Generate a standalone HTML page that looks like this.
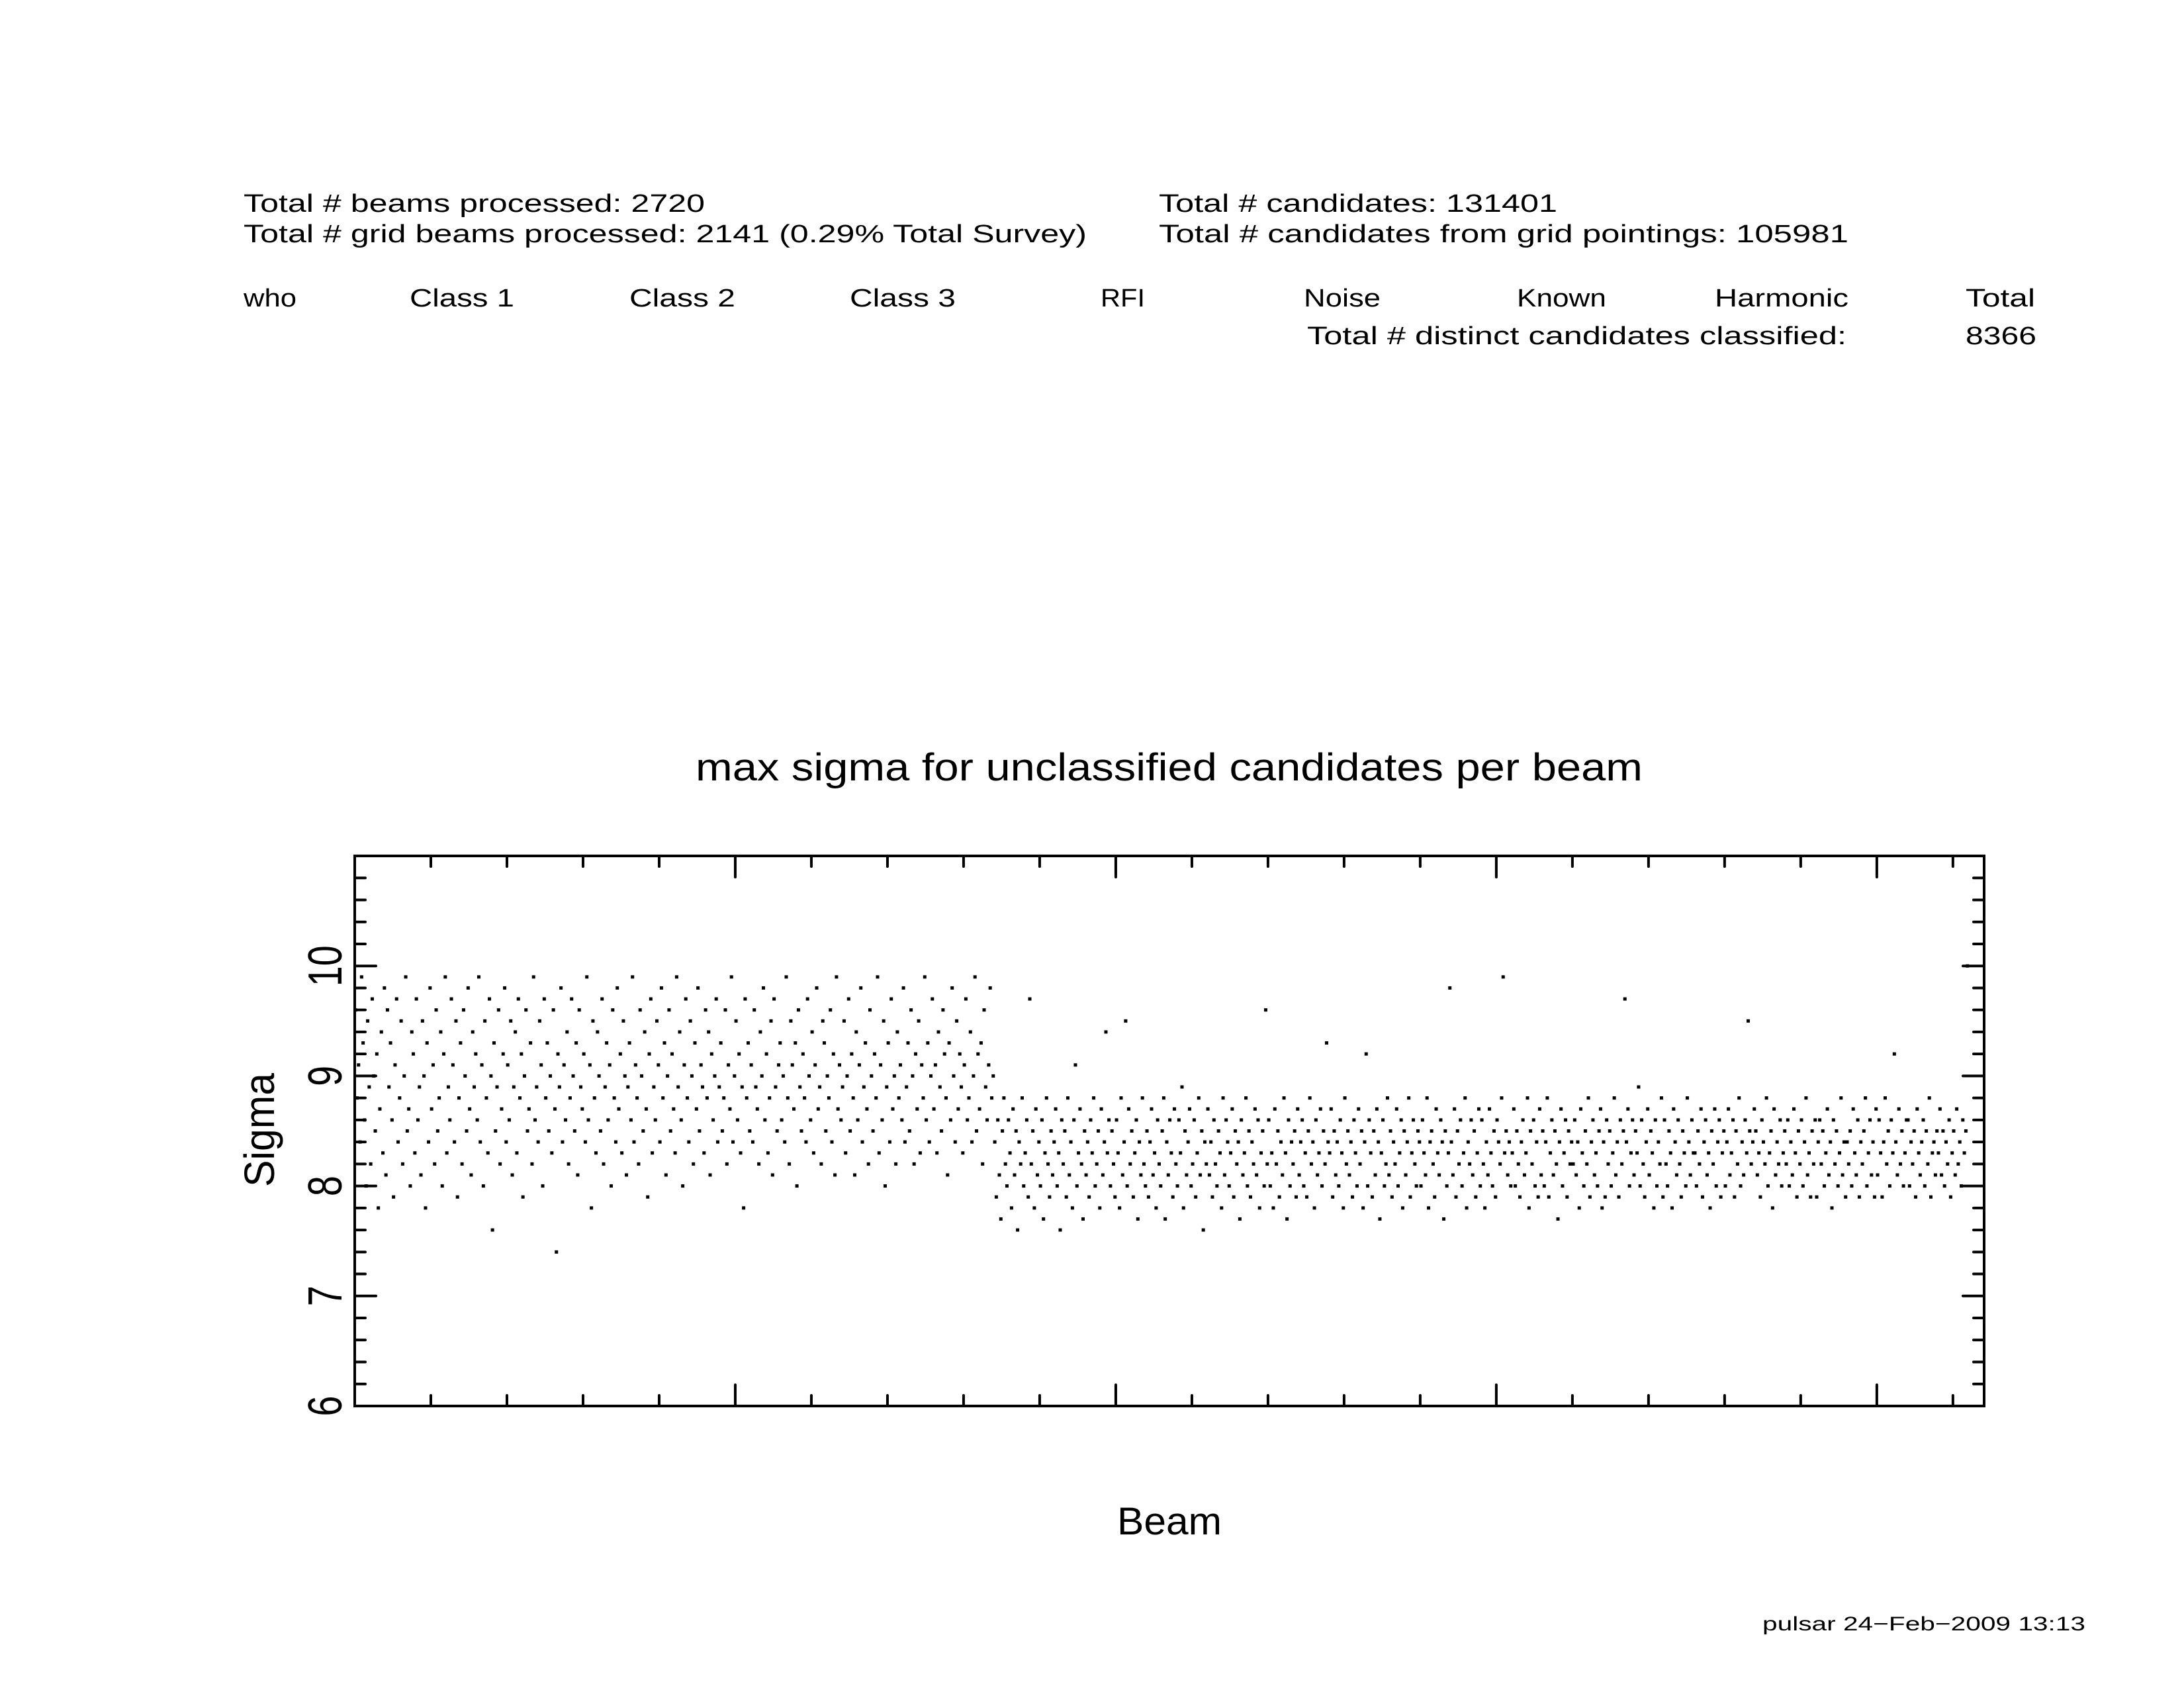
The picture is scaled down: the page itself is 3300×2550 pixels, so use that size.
<!DOCTYPE html>
<html><head><meta charset="utf-8"><style>
html,body{margin:0;padding:0;background:#fff}
svg{display:block}
text{font-family:"Liberation Sans",sans-serif;fill:#000}
</style></head><body>
<svg id="chart" width="3300" height="2550" viewBox="0 0 3300 2550" xmlns="http://www.w3.org/2000/svg">
<rect width="3300" height="2550" fill="#fff"/>
<g font-size="38">
<text x="368" y="320" textLength="697" lengthAdjust="spacingAndGlyphs">Total # beams processed: 2720</text>
<text x="368" y="366" textLength="1274" lengthAdjust="spacingAndGlyphs">Total # grid beams processed: 2141 (0.29% Total Survey)</text>
<text x="1751" y="320" textLength="602" lengthAdjust="spacingAndGlyphs">Total # candidates: 131401</text>
<text x="1751" y="366" textLength="1042" lengthAdjust="spacingAndGlyphs">Total # candidates from grid pointings: 105981</text>
<text x="368" y="463" textLength="80" lengthAdjust="spacingAndGlyphs">who</text>
<text x="619" y="463" textLength="158" lengthAdjust="spacingAndGlyphs">Class 1</text>
<text x="951" y="463" textLength="160" lengthAdjust="spacingAndGlyphs">Class 2</text>
<text x="1284" y="463" textLength="160" lengthAdjust="spacingAndGlyphs">Class 3</text>
<text x="1663" y="463" textLength="67" lengthAdjust="spacingAndGlyphs">RFI</text>
<text x="1970" y="463" textLength="116" lengthAdjust="spacingAndGlyphs">Noise</text>
<text x="2292" y="463" textLength="135" lengthAdjust="spacingAndGlyphs">Known</text>
<text x="2591" y="463" textLength="202" lengthAdjust="spacingAndGlyphs">Harmonic</text>
<text x="2970" y="463" textLength="105" lengthAdjust="spacingAndGlyphs">Total</text>
<text x="1975" y="520" textLength="815" lengthAdjust="spacingAndGlyphs">Total # distinct candidates classified:</text>
<text x="2970" y="520" textLength="107" lengthAdjust="spacingAndGlyphs">8366</text>
</g>
<text x="1051" y="1179" font-size="58" textLength="1431" lengthAdjust="spacingAndGlyphs">max sigma for unclassified candidates per beam</text>
<text x="1688" y="2318" font-size="58" textLength="158" lengthAdjust="spacingAndGlyphs">Beam</text>
<text transform="translate(414,1793) rotate(-90)" font-size="64" textLength="172" lengthAdjust="spacingAndGlyphs">Sigma</text>
<text x="2663" y="2463" font-size="30" textLength="488" lengthAdjust="spacingAndGlyphs">pulsar 24−Feb−2009 13:13</text>
<g id="ticks"></g>
<g id="points"></g>
<rect x="536" y="1293" width="2462" height="831" fill="none" stroke="#000" stroke-width="4"/>
</svg>
<script>
const yTickValues = [6, 7, 8, 9, 10];
const yTickLabels = ["6", "7", "8", "9", "10"];
const xMajorTicks = [500, 1000, 1500, 2000];
const xDomain = [0, 2141];
const yDomain = [6, 11];
const sigmaTenthsEarly = [
96,88,91,84,99,93,86,80,95,89,82,97,90,85,92,78,87,94,83,98,
81,96,89,93,86,79,91,97,84,88,95,82,90,99,85,87,80,94,92,83,
97,86,89,81,95,90,78,93,84,98,87,91,82,96,85,88,94,80,92,99,
83,89,86,97,91,84,95,79,88,93,82,96,90,85,98,87,81,94,89,92,
86,99,84,91,80,95,88,83,97,90,76,93,85,89,96,82,87,92,98,84,
91,86,95,81,89,94,83,97,88,92,79,90,96,85,87,93,82,99,86,89,
84,95,91,80,97,88,93,85,90,83,96,87,74,92,89,98,84,91,86,94,
82,88,97,90,85,93,81,96,89,87,92,84,99,86,91,78,95,88,83,94,
90,85,97,82,89,93,86,91,80,96,88,84,98,87,92,83,95,90,81,89,
93,86,99,84,91,88,82,96,90,85,94,87,79,92,97,83,89,86,95,91,
84,98,88,93,81,90,96,85,92,87,83,99,89,94,86,80,91,97,88,84,
95,90,82,93,87,98,85,91,89,83,96,88,94,81,92,86,90,97,84,89,
93,85,88,96,82,91,87,99,84,90,95,86,92,83,89,78,97,88,93,85,
91,84,96,89,87,82,94,90,98,86,92,83,88,95,81,97,89,85,91,93,
86,90,84,99,88,82,95,91,87,93,80,96,89,85,92,88,84,97,90,86,
94,83,91,98,87,89,82,95,93,85,90,88,96,84,92,81,99,87,91,86,
89,95,83,90,97,85,92,88,81,94,86,91,98,84,89,93,87,82,96,90,
85,92,88,99,83,91,86,95,80,89,93,84,97,87,90,82,94,88,91,86,
98,84,89,93,85,96,90,82,92,87,95,83,91,88,99,86,93,84,90,97,
87,91,83,94,89,85,96,92,88,81,93,86,98,90,84,95,87,92,89,83,
91,97,86,88,94,84,90,99,85,92,87,93,82,96,89,86,91,98,88,90
];
const sigmaTenthsLate = [
84,79,86,81,77,85,88,82,80,86,83,78,87,81,85,76,84,82,88,80,
83,86,79,97,82,85,78,87,81,84,80,86,77,83,88,82,79,85,81,84,
87,80,83,76,86,82,85,79,88,81,84,78,86,91,80,83,87,82,77,85,
81,84,79,86,83,88,80,82,85,78,87,81,84,94,83,86,80,85,82,79,
86,83,78,88,81,84,95,80,87,82,85,79,83,86,77,84,81,88,82,80,
85,79,84,87,81,83,78,86,82,80,85,88,77,84,81,86,83,79,87,82,
80,86,83,89,78,85,81,84,87,80,82,86,79,83,88,81,85,76,84,82,
87,81,84,79,86,82,80,85,83,78,88,81,86,84,80,83,87,79,85,82,
84,77,86,81,83,88,80,85,79,84,82,87,81,86,78,83,85,80,96,82,
86,80,83,78,87,82,85,79,84,81,88,83,77,86,80,84,82,85,79,87,
81,84,86,80,83,79,85,88,82,84,78,86,81,83,87,80,85,82,93,84,
83,87,79,85,81,84,80,86,83,78,88,82,85,81,84,79,86,83,80,87,
82,85,78,84,92,80,86,83,79,85,81,87,84,77,83,86,80,82,88,81,
85,79,84,82,87,80,83,86,78,85,81,84,88,79,83,86,82,80,85,84,
80,86,83,81,88,78,84,85,82,79,87,83,81,86,84,77,85,80,83,98,
84,81,87,79,85,82,86,80,83,88,78,84,82,86,81,85,79,83,87,80,
86,82,78,84,81,87,83,80,85,79,86,84,82,88,99,83,85,81,84,80,
83,87,80,85,82,79,84,86,81,83,88,78,85,82,86,80,84,79,87,81,
85,80,84,88,79,83,86,81,85,82,77,84,87,80,83,86,79,85,82,84,
82,86,81,84,78,87,83,80,85,82,88,79,84,86,81,83,80,85,87,78,
84,79,86,82,85,80,83,88,81,84,79,86,82,85,97,84,87,80,83,86,
81,85,83,89,80,86,82,79,84,87,81,85,83,78,86,80,84,82,88,79,
86,82,80,85,83,78,87,84,81,86,82,79,85,83,80,88,84,81,86,83,
83,80,85,82,87,79,84,86,81,83,78,85,82,87,80,84,86,79,83,85,
80,84,87,81,83,86,79,85,82,88,80,84,81,86,83,95,85,82,84,87,
85,81,83,79,86,84,82,88,80,83,85,78,87,81,84,82,86,80,83,85,
82,86,80,84,81,87,83,79,85,82,86,80,84,88,81,83,79,85,82,86,
79,84,86,82,85,80,83,87,81,84,78,86,82,85,80,83,88,81,84,79,
84,82,85,80,87,83,81,86,79,84,82,85,88,80,83,86,81,84,79,87,
81,86,83,79,84,88,82,85,80,86,83,92,84,81,87,82,85,80,83,86,
86,80,84,82,85,79,87,83,81,84,86,80,85,82,88,79,83,84,81,85,
83,87,81,85,80,84,82,86,79,83,85,81,87,82,84,80,86,83,85,100
];
const sigmaTenths = sigmaTenthsEarly.concat(sigmaTenthsLate);
const PL = 536, PR = 2998, PT = 1293, PB = 2124;
const NS = "http://www.w3.org/2000/svg";
function xScale(v){ return PL + (v - xDomain[0]) / (xDomain[1] - xDomain[0]) * (PR - PL); }
function yScale(v){ return PB - (v - yDomain[0]) / (yDomain[1] - yDomain[0]) * (PB - PT); }
const ticks = document.getElementById('ticks');
function line(x1,y1,x2,y2,name){
  const l = document.createElementNS(NS,'line');
  l.setAttribute('x1',x1); l.setAttribute('y1',y1); l.setAttribute('x2',x2); l.setAttribute('y2',y2);
  l.setAttribute('stroke','#000'); l.setAttribute('stroke-width','4'); l.setAttribute('stroke-linecap','round');
  
  
  ticks.appendChild(l);
}
for (let k = 0; k <= 25; k++) {
  const v = yDomain[0] + k * 0.2;
  const y = yScale(v);
  const major = k % 5 === 0;
  const len = major ? 32 : 16;
  line(PL, y, PL + len, y, major ? 'y-major-tick' : 'y-minor-tick');
  line(PR, y, PR - len, y, major ? 'y-major-tick-right' : 'y-minor-tick-right');
}
for (let v = 100; v < xDomain[1]; v += 100) {
  const x = xScale(v);
  const major = xMajorTicks.indexOf(v) >= 0;
  const len = major ? 32 : 16;
  line(x, PB, x, PB - len, major ? 'x-major-tick' : 'x-minor-tick');
  line(x, PT, x, PT + len, major ? 'x-major-tick-top' : 'x-minor-tick-top');
}
const svg = document.getElementById('chart');
yTickValues.forEach((v, i) => {
  const t = document.createElementNS(NS,'text');
  const y = yScale(v);
  const w = yTickLabels[i].length * 31;
  t.setAttribute('transform', 'translate(516,' + (y + w/2) + ') rotate(-90)');
  t.setAttribute('font-size', '72');
  t.setAttribute('textLength', w);
  t.setAttribute('lengthAdjust', 'spacingAndGlyphs');
  t.textContent = yTickLabels[i];
  
  
  svg.appendChild(t);
});
const pts = document.getElementById('points');
sigmaTenths.forEach((s, i) => {
  const beam = 2 * i + 1;
  if (beam > xDomain[1]) return;
  const c = document.createElementNS(NS,'rect');
  c.setAttribute('x', xScale(beam) - 2.5);
  c.setAttribute('y', yScale(s / 10) - 2.5);
  c.setAttribute('width', 5);
  c.setAttribute('height', 5);
  c.setAttribute('fill', '#000');
  
  
  pts.appendChild(c);
});
</script>
</body></html>
